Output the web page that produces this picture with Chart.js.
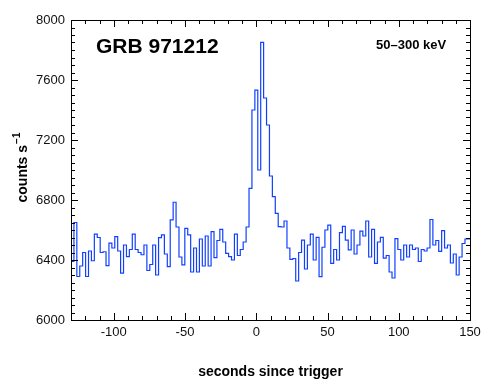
<!DOCTYPE html>
<html>
<head>
<meta charset="utf-8">
<script src="https://cdn.jsdelivr.net/npm/chart.js@4"></script>
<style>
  html, body { margin: 0; padding: 0; background: #fff; }
  canvas { display: block; }
</style>
</head>
<body>
<canvas id="chart-1" width="490" height="390"></canvas>
<script>
// light curve, 50-300 keV, bins of 2.048 s starting at -130 s
const binStart = -130;
const binWidth = 2.048;
const counts = [
  6420, 6390, 6650, 6290, 6360, 6450, 6290, 6460, 6395, 6573,
  6550, 6450, 6455, 6362, 6513, 6480, 6556, 6460, 6313, 6500,
  6422, 6470, 6573, 6470, 6450, 6435, 6500, 6330, 6370, 6500,
  6300, 6549, 6567, 6440, 6356, 6667, 6785, 6620, 6420, 6367,
  6611, 6567, 6320, 6480, 6320, 6540, 6360, 6560, 6360, 6589,
  6416, 6530, 6604, 6520, 6444, 6422, 6400, 6573, 6430, 6470,
  6520, 6620, 6878, 7400, 7533, 7000, 7851, 7480, 7300, 6960,
  6822, 6711, 6622, 6620, 6660, 6480, 6404, 6410, 6260, 6450,
  6533, 6340, 6500, 6573, 6400, 6551, 6289, 6485, 6600, 6633,
  6378, 6470, 6400, 6582, 6624, 6533, 6467, 6600, 6440, 6500,
  6593, 6560, 6660, 6420, 6604, 6378, 6520, 6551, 6413, 6430,
  6320, 6280, 6542, 6470, 6400, 6500, 6420, 6500, 6470, 6480,
  6390, 6470, 6460, 6480, 6670, 6500, 6530, 6458, 6596, 6480,
  6500, 6380, 6440, 6300, 6420, 6510, 6540
];
const xMajorTicks = [-100, -50, 0, 50, 100, 150];
const yTickLabels = [6000, 6400, 6800, 7200, 7600, 8000];

// step points at the left edge of every bin, plus the closing edge
const points = counts.map((c, i) => ({ x: binStart + i * binWidth, y: c }));
points.push({ x: binStart + counts.length * binWidth, y: counts[counts.length - 1] });

const frameAndText = {
  id: "frameAndText",
  afterDraw(chart) {
    const ctx = chart.ctx;
    const a = chart.chartArea;
    const xs = chart.scales.x, ys = chart.scales.y;
    ctx.save();
    ctx.strokeStyle = "#000";
    ctx.lineWidth = 1;
    ctx.strokeRect(Math.round(a.left) + 0.5, Math.round(a.top) + 0.5,
      Math.round(a.right - a.left), Math.round(a.bottom - a.top));

    // inward ticks on all four sides
    ctx.beginPath();
    for (let v = -130; v <= 150; v += 10) {
      const px = Math.round(xs.getPixelForValue(v)) + 0.5;
      const len = xMajorTicks.includes(v) ? 7 : 4;
      ctx.moveTo(px, a.bottom); ctx.lineTo(px, a.bottom - len);
      ctx.moveTo(px, a.top); ctx.lineTo(px, a.top + len);
    }
    for (let v = 6000; v <= 8000; v += 50) {
      const py = Math.round(ys.getPixelForValue(v)) + 0.5;
      const len = yTickLabels.includes(v) ? 7 : 4;
      ctx.moveTo(a.left, py); ctx.lineTo(a.left + len, py);
      ctx.moveTo(a.right, py); ctx.lineTo(a.right - len, py);
    }
    ctx.stroke();

    ctx.fillStyle = "#000";
    ctx.textBaseline = "middle";
    ctx.textAlign = "left";
    ctx.font = "bold 21px 'Liberation Sans', Arial, sans-serif";
    ctx.fillText("GRB 971212", 96, 47);
    ctx.font = "bold 13px 'Liberation Sans', Arial, sans-serif";
    ctx.fillText("50\u2013300 keV", 376, 45);

    ctx.textAlign = "center";
    ctx.font = "bold 14px 'Liberation Sans', Arial, sans-serif";
    ctx.fillText("seconds since trigger", (a.left + a.right) / 2, 372);

    // y title with superscript
    ctx.translate(21, 168);
    ctx.rotate(-Math.PI / 2);
    const main = "counts s";
    const sup = "\u22121";
    ctx.font = "bold 14px 'Liberation Sans', Arial, sans-serif";
    const w1 = ctx.measureText(main).width;
    ctx.font = "bold 10px 'Liberation Sans', Arial, sans-serif";
    const w2 = ctx.measureText(sup).width;
    const x0 = -(w1 + w2) / 2;
    ctx.textAlign = "left";
    ctx.font = "bold 14px 'Liberation Sans', Arial, sans-serif";
    ctx.fillText(main, x0, 2);
    ctx.font = "bold 10px 'Liberation Sans', Arial, sans-serif";
    ctx.fillText(sup, x0 + w1 + 1, -4);
    ctx.restore();
  }
};

const ctx1 = document.getElementById("chart-1").getContext("2d");
const myChart = new Chart(ctx1, {
  type: "line",
  data: {
    datasets: [
      {
        data: points,
        stepped: "after",
        borderColor: "#1040ff",
        borderWidth: 1.2,
        pointRadius: 0,
        fill: false,
      },
    ],
  },
  options: {
    responsive: false,
    animation: false,
    devicePixelRatio: 1,
    layout: { padding: { top: 20, right: 20, left: 0, bottom: 0 } },
    plugins: { legend: { display: false }, tooltip: { enabled: false } },
    scales: {
      x: {
        type: "linear",
        min: -130,
        max: 150,
        grid: { display: false, drawTicks: false },
        border: { display: false },
        ticks: {
          padding: 5,
          color: "#111",
          font: { family: "'Liberation Sans', Arial, sans-serif", size: 13 },
          maxRotation: 0,
          autoSkip: false,
          callback: (v) => String(v),
        },
        afterBuildTicks: (s) => { s.ticks = xMajorTicks.map((v) => ({ value: v })); },
        afterFit: (s) => { s.height = 70; },
      },
      y: {
        min: 6000,
        max: 8000,
        grid: { display: false, drawTicks: false },
        border: { display: false },
        ticks: {
          padding: 6,
          color: "#111",
          font: { family: "'Liberation Sans', Arial, sans-serif", size: 13 },
          autoSkip: false,
          callback: (v) => String(v),
        },
        afterBuildTicks: (s) => { s.ticks = yTickLabels.map((v) => ({ value: v })); },
        afterFit: (s) => { s.width = 71; },
      },
    },
  },
  plugins: [frameAndText],
});
</script>
</body>
</html>
